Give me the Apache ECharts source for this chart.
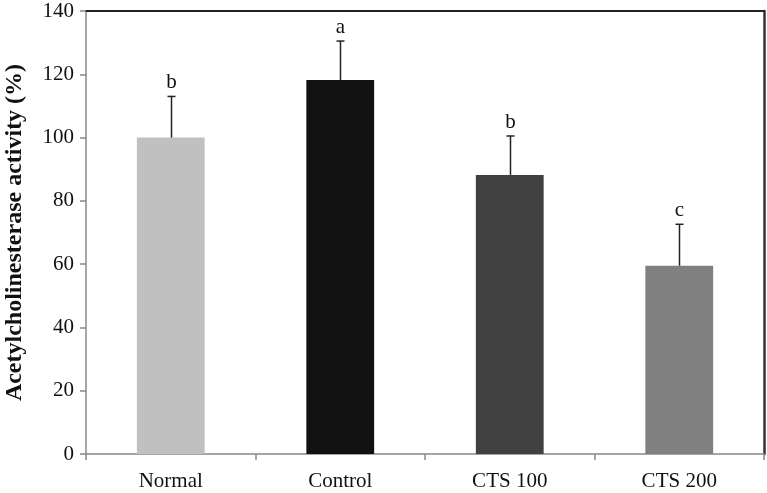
<!DOCTYPE html>
<html>
<head>
<meta charset="utf-8">
<script src="https://cdn.jsdelivr.net/npm/echarts@6/dist/echarts.min.js"></script>
<style>html,body{margin:0;padding:0;background:#fff}#c{width:767px;height:493px}</style>
</head>
<body>
<div id="c"></div>
<script>
var categories = ['Normal', 'Control', 'CTS 100', 'CTS 200'];
var means = [100, 118.2, 88.2, 59.5];
var errors = [13, 12.3, 12.3, 13.1];
var letters = ['b', 'a', 'b', 'c'];
var barColors = ['#c0c0c0', '#111111', '#404040', '#808080'];
var yTicks = { min: 0, max: 140, interval: 20 };
var yTitle = 'Acetylcholinesterase activity (%)';

var font = '"Liberation Serif", "Times New Roman", serif';
var chart = echarts.init(document.getElementById('c'), null, { renderer: 'canvas' });

var errData = categories.map(function (c, i) { return [i, means[i], means[i] + errors[i], letters[i]]; });

chart.setOption({
  animation: false,
  backgroundColor: '#fff',
  grid: { left: 86, right: 3, top: 11, bottom: 39, containLabel: false, outerBoundsMode: 'none' },
  xAxis: [{
    type: 'category',
    data: categories,
    axisLine: { onZero: false, lineStyle: { color: '#888', width: 1.5 } },
    axisTick: { show: true, length: 6, lineStyle: { color: '#888', width: 1.5 } },
    axisLabel: { color: '#111', fontFamily: font, fontSize: 21, margin: 17 },
    splitLine: { show: false }
  }, {
    type: 'category',
    data: categories,
    position: 'top',
    axisLine: { onZero: false, lineStyle: { color: '#222', width: 2 } },
    axisTick: { show: false },
    axisLabel: { show: false }
  }],
  yAxis: [{
    type: 'value',
    min: yTicks.min, max: yTicks.max, interval: yTicks.interval,
    name: yTitle,
    nameLocation: 'middle',
    nameGap: 59,
    nameTextStyle: { fontFamily: font, fontSize: 24, fontWeight: 'bold', color: '#111' },
    axisLine: { show: true, lineStyle: { color: '#888', width: 1.5 } },
    axisTick: { show: true, length: 6, lineStyle: { color: '#888', width: 1.5 } },
    axisLabel: { color: '#111', fontFamily: font, fontSize: 21, margin: 12 },
    splitLine: { show: false }
  }, {
    type: 'value',
    position: 'right',
    min: yTicks.min, max: yTicks.max, interval: yTicks.interval,
    axisLine: { show: true, lineStyle: { color: '#333', width: 2.5 } },
    axisTick: { show: false },
    axisLabel: { show: false },
    splitLine: { show: false }
  }],
  series: [{
    type: 'bar',
    barWidth: '40%',
    data: means.map(function (v, i) { return { value: v, itemStyle: { color: barColors[i] } }; }),
    z: 2
  }, {
    type: 'custom',
    z: 3,
    data: errData,
    renderItem: function (params, api) {
      var base = api.coord([api.value(0), api.value(1)]);
      var top = api.coord([api.value(0), api.value(2)]);
      var x = Math.round(base[0]) + 0.5;
      var cap = 4;
      return {
        type: 'group',
        children: [{
          type: 'line',
          shape: { x1: x, y1: base[1], x2: x, y2: top[1] },
          style: { stroke: '#222', lineWidth: 1.5 }
        }, {
          type: 'line',
          shape: { x1: x - cap, y1: top[1], x2: x + cap, y2: top[1] },
          style: { stroke: '#222', lineWidth: 1.5 }
        }, {
          type: 'text',
          style: {
            x: x, y: top[1] - 3,
            text: letters[params.dataIndex],
            textAlign: 'center', textVerticalAlign: 'bottom',
            fontFamily: font, fontSize: 21, fill: '#111'
          }
        }]
      };
    }
  }]
});
</script>
</body>
</html>
